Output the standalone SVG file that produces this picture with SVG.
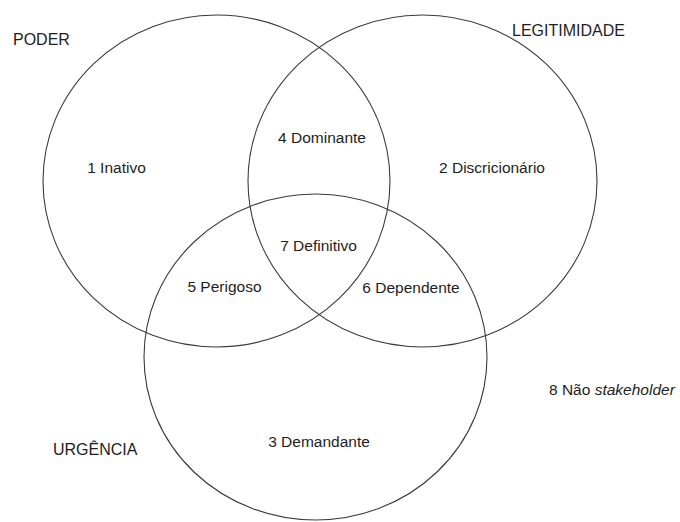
<svg xmlns="http://www.w3.org/2000/svg" width="680" height="522" viewBox="0 0 680 522">
  <style>
    .set { fill: none; stroke: #3a3a3a; stroke-width: 1.1; }
    .title { font-family: "Liberation Sans", Arial, sans-serif; font-size: 16px; fill: #1e1e1e; }
    .label { font-family: "Liberation Sans", Arial, sans-serif; font-size: 15.5px; fill: #1e1e1e; text-anchor: middle; }
  </style>
  <rect width="680" height="522" fill="#ffffff"/>

  <!-- the three attribute sets -->
  <g id="set-poder">
    <ellipse class="set" cx="216.5" cy="181" rx="173.5" ry="166"/>
    <text class="title" x="13" y="45">PODER</text>
  </g>
  <g id="set-legitimidade">
    <ellipse class="set" cx="422.5" cy="181" rx="174.5" ry="166"/>
    <text class="title" x="512" y="36">LEGITIMIDADE</text>
  </g>
  <g id="set-urgencia">
    <ellipse class="set" cx="315.5" cy="357" rx="171.5" ry="163"/>
    <text class="title" x="53" y="455">URGÊNCIA</text>
  </g>

  <!-- stakeholder classes by region -->
  <g id="class-1"><text class="label" x="116.5" y="173">1 Inativo</text></g>
  <g id="class-2"><text class="label" x="492" y="173">2 Discricionário</text></g>
  <g id="class-3"><text class="label" x="319" y="447">3 Demandante</text></g>
  <g id="class-4"><text class="label" x="322" y="143">4 Dominante</text></g>
  <g id="class-5"><text class="label" x="224.5" y="292">5 Perigoso</text></g>
  <g id="class-6"><text class="label" x="411" y="293">6 Dependente</text></g>
  <g id="class-7"><text class="label" x="318.5" y="251">7 Definitivo</text></g>
  <g id="class-8"><text class="label" x="549" y="395" style="text-anchor:start">8 Não <tspan font-style="italic">stakeholder</tspan></text></g>
</svg>
